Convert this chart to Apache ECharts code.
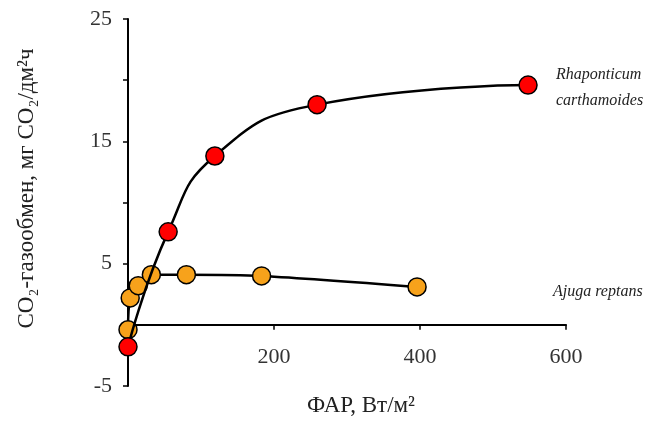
<!DOCTYPE html>
<html>
<head>
<meta charset="utf-8">
<script src="https://cdn.jsdelivr.net/npm/echarts@6/dist/echarts.min.js"></script>
<style>html,body{margin:0;padding:0;background:#fff}#c{width:654px;height:423px}</style>
</head>
<body>
<div id="c"></div>
<script>
// Data
var seriesNames = ['Rhaponticum carthamoides', 'Ajuga reptans'];
var rhapX = [0, 55, 119, 259, 548];
var rhapY = [-1.8, 7.6, 13.8, 18.0, 19.6];
var ajugaX = [0, 3, 14, 32, 80, 183, 396];
var ajugaY = [-0.4, 2.2, 3.2, 4.1, 4.1, 4.0, 3.1];
var xTicks = [0, 200, 400, 600];
var yTicks = [-5, 5, 15, 25];

function pairs(xs, ys) { return xs.map(function (x, i) { return [x, ys[i]]; }); }

var serif = '"Liberation Serif", "DejaVu Serif", serif';
var chart = echarts.init(document.getElementById('c'));
chart.setOption({
  animation: false,
  grid: { left: 128, right: 88, top: 19, bottom: 37, containLabel: false, outerBoundsMode: 'none' },
  xAxis: {
    type: 'value', min: 0, max: 600, interval: 200,
    name: 'ФАР, Вт/м²', nameLocation: 'middle', nameGap: 8,
    nameTextStyle: { fontFamily: serif, fontSize: 23, color: '#222', padding: [0, 0, 0, 28] },
    axisLine: { onZero: true, lineStyle: { color: '#000', width: 2 } },
    axisTick: { show: true, length: 5, lineStyle: { color: '#000', width: 1.5 } },
    axisLabel: {
      margin: -40, fontFamily: serif, fontSize: 22, color: '#333',
      formatter: function (v) { return (v !== 0 && xTicks.indexOf(v) >= 0) ? String(v) : ''; }
    },
    splitLine: { show: false }
  },
  yAxis: {
    type: 'value', min: -5, max: 25, interval: 5,
    name: 'CO₂-газообмен, мг CO₂/дм²ч', nameLocation: 'middle', nameGap: 90,
    nameTextStyle: { fontFamily: serif, fontSize: 23, color: '#222', padding: [0, 0, 0, 28] },
    axisLine: { show: true, lineStyle: { color: '#000', width: 2 } },
    axisTick: { show: true, length: 5, lineStyle: { color: '#000', width: 1.5 } },
    axisLabel: {
      margin: 16, fontFamily: serif, fontSize: 22, color: '#333',
      formatter: function (v) { return yTicks.indexOf(v) >= 0 ? String(v) : ''; }
    },
    splitLine: { show: false }
  },
  series: [
    {
      name: seriesNames[0], type: 'line', data: pairs(rhapX, rhapY),
      smooth: 0.5,
      symbol: 'circle', symbolSize: 18,
      lineStyle: { color: '#000', width: 2.5 },
      itemStyle: { color: '#ff0000', borderColor: '#000', borderWidth: 1.5 },
      z: 3
    },
    {
      name: seriesNames[1], type: 'line', data: pairs(ajugaX, ajugaY),
      smooth: 0.3,
      symbol: 'circle', symbolSize: 18,
      lineStyle: { color: '#000', width: 2.5 },
      itemStyle: { color: '#f7a21b', borderColor: '#000', borderWidth: 1.5 },
      z: 2
    }
  ],
  graphic: [
    { type: 'text', left: 556, top: 62, style: { text: 'Rhaponticum\ncarthamoides', font: 'italic 16px ' + serif, fill: '#222', lineHeight: 26 } },
    { type: 'text', left: 553, top: 284, style: { text: 'Ajuga reptans', font: 'italic 16px ' + serif, fill: '#222' } }
  ]
});
</script>
</body>
</html>
